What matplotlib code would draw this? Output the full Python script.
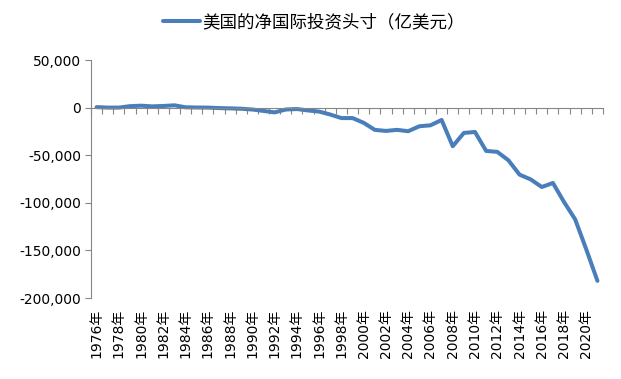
import numpy as np
import matplotlib
matplotlib.use('Agg')
from matplotlib import pyplot as plt
from matplotlib.ticker import FuncFormatter, FixedLocator

years = list(range(1976, 2022))
# net international investment position, 100 million USD
niip = [500, 0, 0, 1500, 2000, 1300, 1700, 2400, 300, 100,
        0, -500, -800, -1200, -2000, -3500, -5000, -2000, -1500, -3000,
        -4200, -7300, -11000, -11000, -16000, -23400, -24500, -23400, -24800, -19600,
        -18600, -13000, -40600, -26600, -25600, -45500, -46500, -55300, -70400, -75400,
        -83400, -79200, -99200, -117400, -149000, -182000]
series_name = '美国的净国际投资头寸（亿美元）'
label_years = years[::2]
x_labels = [str(y) + '年' for y in label_years]

axis_gray = '#868686'
line_blue = '#4a7ebb'

fig = plt.figure(figsize=(6.21, 3.79), dpi=100)
ax = fig.add_axes([91/621, 1 - 298/379, (603 - 91)/621, (298 - 60)/379])

x = np.arange(len(years))
ln, = ax.plot(x, niip, color=line_blue, lw=2.9, solid_joinstyle='round',
              solid_capstyle='round', label=series_name)

ax.set_xlim(-0.5, len(years) - 0.5)
ax.set_ylim(-200000, 50000)
ax.set_yticks(np.arange(-200000, 50001, 50000))
ax.yaxis.set_major_formatter(FuncFormatter(lambda v, p: '{:,.0f}'.format(v)))
ax.tick_params(axis='y', direction='out', length=4, color=axis_gray,
               labelsize=10, pad=3, labelcolor='black')

# category axis crosses at zero, ticks between categories
for s in ['top', 'right']:
    ax.spines[s].set_visible(False)
ax.spines['left'].set_color(axis_gray)
ax.spines['bottom'].set_position(('data', 0))
ax.spines['bottom'].set_color(axis_gray)
ax.xaxis.set_major_locator(FixedLocator(np.arange(-0.5, len(years), 1)))
ax.tick_params(axis='x', direction='out', length=4, color=axis_gray,
               labelbottom=False)

# labels sit at the bottom of the plot area
sec = ax.secondary_xaxis(0.0)
sec.set_xticks([years.index(y) for y in label_years])
sec.set_xticklabels(x_labels, rotation=90, fontsize=10,
                    family=['DejaVu Sans', 'Noto Sans CJK SC'])
sec.tick_params(length=0, pad=8)
sec.spines['bottom'].set_visible(False)

leg = fig.legend(handles=[ln], loc='center', bbox_to_anchor=(314/621, 1 - 22/379),
                 frameon=False, handlelength=2.1, handletextpad=0.17,
                 prop={'family': ['Noto Sans CJK SC', 'DejaVu Sans'], 'size': 12.6})

fig.savefig('out.png', dpi=100)
